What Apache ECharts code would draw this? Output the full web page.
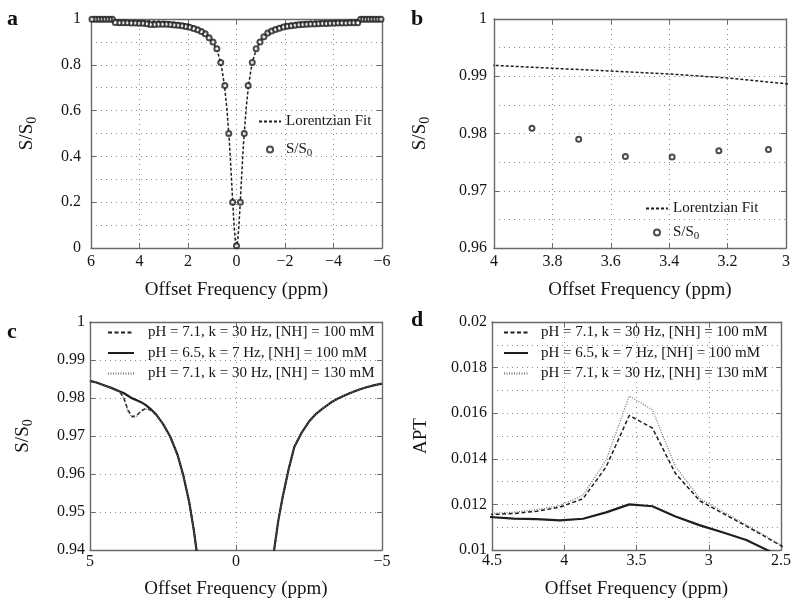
<!DOCTYPE html>
<html>
<head>
<meta charset="utf-8">
<title>Z-spectra and APT</title>
<script src="https://cdn.jsdelivr.net/npm/echarts@6/dist/echarts.min.js"></script>
<style>
  html, body { margin: 0; padding: 0; background: #fff; }
  #chart { width: 794px; height: 600px; }
</style>
</head>
<body>
<div id="chart"></div>
<script type="text/javascript">
// ---- panel a / b : Lorentzian fit (symmetric, only positive offsets listed)
var fitX = [0, 0.05, 0.1, 0.15, 0.2, 0.25, 0.3, 0.4, 0.5, 0.6, 0.7, 0.8, 1.0, 1.2, 1.5, 2.0, 2.5, 3.0, 3.2, 3.4, 3.6, 3.8, 4.0, 4.5, 5.0, 5.5, 6.0];
var fitY = [0.01, 0.034, 0.098, 0.188, 0.288, 0.385, 0.473, 0.613, 0.712, 0.780, 0.828, 0.862, 0.906, 0.932, 0.957, 0.977, 0.9845, 0.9887, 0.9897, 0.9904, 0.9909, 0.9914, 0.9919, 0.9927, 0.9934, 0.9940, 0.9945];

// measured S/S0 points (offsets in ppm, positive side and negative side)
var ptX   = [0, 0.16, 0.32, 0.48, 0.65, 0.81, 0.97, 1.13, 1.29, 1.45, 1.61, 1.77, 1.94, 2.10, 2.26, 2.42, 2.58, 2.74, 2.90, 3.06, 3.23, 3.39, 3.55, 3.71, 3.87, 4.03, 4.19, 4.35, 4.52, 4.68, 4.84, 5.00];
var ptPos = [0.01, 0.20, 0.50, 0.71, 0.81, 0.87, 0.90, 0.918, 0.936, 0.9455, 0.953, 0.9585, 0.9635, 0.967, 0.970, 0.9722, 0.9743, 0.9757, 0.9768, 0.9772, 0.9770, 0.9759, 0.9760, 0.9790, 0.9809, 0.9818, 0.9823, 0.9828, 0.9833, 0.9837, 0.9841, 0.9845];
var ptNeg = [0.01, 0.20, 0.50, 0.71, 0.81, 0.87, 0.90, 0.922, 0.939, 0.9475, 0.9545, 0.960, 0.965, 0.9685, 0.9708, 0.973, 0.9745, 0.9758, 0.9768, 0.9778, 0.9787, 0.9795, 0.9801, 0.9806, 0.9811, 0.9816, 0.982, 0.9824, 0.9828, 0.9832, 0.9835, 0.9838];
var farX  = [5.12, 5.24, 5.36, 5.48, 5.60, 5.72, 5.84, 5.96];
var farY  = [0.999, 0.999, 0.999, 0.999, 0.999, 0.999, 0.999, 0.999];

// ---- panel c : simulated Z-spectra
var cX = [5, 4.75, 4.5, 4.25, 4, 3.85, 3.7, 3.55, 3.4, 3.25, 3.1, 2.95, 2.75, 2.5, 2.25, 2, 1.8, 1.6, 1.45, 1.3, 1.1, 0,
          -1.1, -1.3, -1.45, -1.6, -1.8, -2, -2.25, -2.5, -2.75, -3, -3.25, -3.5, -3.75, -4, -4.25, -4.5, -4.75, -5];
var cDash  = [0.9845, 0.9840, 0.9833, 0.9826, 0.9817, 0.9802, 0.9768, 0.9751, 0.9754, 0.9766, 0.9772, 0.9769, 0.9757, 0.9732, 0.9698, 0.9650, 0.9595, 0.9525, 0.9455, 0.9370, 0.925, 0.30,
              0.928, 0.9397, 0.9478, 0.9540, 0.9612, 0.9672, 0.9709, 0.9738, 0.9759, 0.9774, 0.9788, 0.9799, 0.9808, 0.9816, 0.9823, 0.9829, 0.9834, 0.9838];
var cSolid = [0.9845, 0.9840, 0.9833, 0.9826, 0.9818, 0.9813, 0.9806, 0.9799, 0.9794, 0.9789, 0.9782, 0.9773, 0.9758, 0.9732, 0.9698, 0.9650, 0.9595, 0.9525, 0.9455, 0.9370, 0.925, 0.30,
              0.928, 0.9397, 0.9478, 0.9540, 0.9612, 0.9672, 0.9709, 0.9738, 0.9759, 0.9774, 0.9788, 0.9799, 0.9808, 0.9816, 0.9823, 0.9829, 0.9834, 0.9838];
var cDot   = [0.9845, 0.9840, 0.9833, 0.9826, 0.9817, 0.9800, 0.9764, 0.9748, 0.9752, 0.9765, 0.9771, 0.9769, 0.9757, 0.9732, 0.9698, 0.9650, 0.9595, 0.9525, 0.9455, 0.9370, 0.925, 0.30,
              0.928, 0.9397, 0.9478, 0.9540, 0.9612, 0.9672, 0.9709, 0.9738, 0.9759, 0.9774, 0.9788, 0.9799, 0.9808, 0.9816, 0.9823, 0.9829, 0.9834, 0.9838];

// ---- panel d : APT asymmetry
var dX     = [4.52, 4.35, 4.19, 4.03, 3.87, 3.71, 3.55, 3.39, 3.23, 3.06, 2.90, 2.74, 2.58, 2.42];
var dDash  = [0.01155, 0.01160, 0.01170, 0.01188, 0.01225, 0.01365, 0.01590, 0.01535, 0.01335, 0.01215, 0.01160, 0.01105, 0.01048, 0.0099];
var dSolid = [0.01145, 0.01138, 0.01135, 0.01130, 0.01137, 0.01165, 0.01200, 0.01192, 0.01147, 0.01108, 0.01077, 0.01044, 0.00995, 0.0095];
var dDot   = [0.01160, 0.01166, 0.01177, 0.01195, 0.01240, 0.01395, 0.01675, 0.01615, 0.01365, 0.01225, 0.01168, 0.01110, 0.01052, 0.0099];

var legNames = ['pH = 7.1, k = 30 Hz, [NH] = 100 mM', 'pH = 6.5, k = 7 Hz, [NH] = 100 mM', 'pH = 7.1, k = 30 Hz, [NH] = 130 mM'];

var FONT = '"Liberation Serif", "Times New Roman", serif';
var INK = '#151515';
var FRAME = '#6a6a6a';
var GRIDC = '#8c8c8c';

function zip(xs, ys) {
    var out = [];
    for (var i = 0; i < xs.length; i++) out.push([xs[i], ys[i]]);
    return out;
}

// fit curve, mirrored onto the negative side
var fitData = [];
for (var i = fitX.length - 1; i > 0; i--) fitData.push([-fitX[i], fitY[i]]);
for (var i = 0; i < fitX.length; i++) fitData.push([fitX[i], fitY[i]]);

var ptData = [];
for (var i = 0; i < farX.length; i++) { ptData.push([farX[i], farY[i]]); ptData.push([-farX[i], farY[i]]); }
for (var i = 0; i < ptX.length; i++) {
    ptData.push([ptX[i], ptPos[i]]);
    if (i > 0) ptData.push([-ptX[i], ptNeg[i]]);
}

var subRich = {
    m: { fontFamily: FONT, fontSize: 19, color: INK },
    s: { fontFamily: FONT, fontSize: 14, color: INK, padding: [9, 0, 0, 0] }
};

function xAxes(g, min, max, step, nameGap, margin) {
    var frame = { onZero: false, lineStyle: { color: FRAME, width: 1.4 } };
    return [{
        gridIndex: g, type: 'value', min: min, max: max, interval: step, inverse: true, position: 'bottom',
        axisLine: frame,
        axisTick: { inside: true, length: 5, lineStyle: { color: FRAME } },
        axisLabel: { color: INK, fontFamily: FONT, fontSize: 16, margin: margin,
            formatter: function (v) { return String(v).replace('-', '\u2212'); } },
        splitLine: { show: true, lineStyle: { color: GRIDC, type: [1, 4], width: 1 } },
        name: 'Offset Frequency (ppm)', nameLocation: 'middle', nameGap: nameGap,
        nameTextStyle: { color: INK, fontFamily: FONT, fontSize: 19 }
    }, {
        gridIndex: g, type: 'value', min: min, max: max, interval: step, inverse: true, position: 'top',
        axisLine: frame,
        axisTick: { inside: true, length: 5, lineStyle: { color: FRAME } },
        axisLabel: { show: false }, splitLine: { show: false }
    }];
}

function yAxes(g, min, max, step, minor, name, nameGap, margin) {
    var frame = { onZero: false, lineStyle: { color: FRAME, width: 1.4 } };
    return [{
        gridIndex: g, type: 'value', min: min, max: max, interval: step, position: 'left',
        axisLine: frame,
        axisTick: { inside: true, length: 5, lineStyle: { color: FRAME } },
        axisLabel: { color: INK, fontFamily: FONT, fontSize: 16, margin: margin },
        splitLine: { show: true, lineStyle: { color: GRIDC, type: [1, 4], width: 1 } },
        minorTick: { show: false, splitNumber: 2 },
        minorSplitLine: { show: minor, lineStyle: { color: GRIDC, type: [1, 4], width: 1 } },
        name: name, nameLocation: 'middle', nameGap: nameGap,
        nameTextStyle: { color: INK, fontFamily: FONT, fontSize: 19, rich: subRich }
    }, {
        gridIndex: g, type: 'value', min: min, max: max, interval: step, position: 'right',
        axisLine: frame,
        axisTick: { inside: true, length: 5, lineStyle: { color: FRAME } },
        axisLabel: { show: false }, splitLine: { show: false }
    }];
}

var fitStyle = { color: '#1e1e1e', width: 1.5, type: [3, 2] };
var ptStyle = { color: '#1e1e1e', borderColor: '#1e1e1e', borderWidth: 1.1 };
var lineStyles = [
    { color: '#1e1e1e', width: 1.5, type: [4, 2.5] },
    { color: '#1e1e1e', width: 2.2, type: 'solid' },
    { color: '#707070', width: 1.2, type: [1, 1.5] }
];
var noMark = { opacity: 0 };

function fitSeries(g) {
    return [{
        name: 'Lorentzian Fit', type: 'line', xAxisIndex: 2 * g, yAxisIndex: 2 * g,
        data: fitData, symbol: 'none', showSymbol: false, clip: true,
        lineStyle: fitStyle, itemStyle: { color: '#1e1e1e' }, z: 2
    }, {
        name: 'S/S0', type: 'scatter', xAxisIndex: 2 * g, yAxisIndex: 2 * g,
        data: ptData, symbol: 'emptyCircle', symbolSize: 5, clip: true, itemStyle: ptStyle, z: 3
    }];
}

function simSeries(g, xs, sets) {
    return sets.map(function (ys, k) {
        return {
            name: legNames[k], type: 'line', xAxisIndex: 2 * g, yAxisIndex: 2 * g,
            data: zip(xs, ys), symbol: 'none', showSymbol: false, clip: true,
            lineStyle: lineStyles[k], itemStyle: { color: lineStyles[k].color },
            z: 2 + (k === 1 ? 0 : 1)
        };
    });
}

function fitLegend(left, top, gap) {
    return {
        orient: 'vertical', left: left, top: top, itemWidth: 22, itemHeight: 6, itemGap: gap,
        selectedMode: false, padding: 0,
        data: [{ name: 'Lorentzian Fit', itemStyle: noMark },
               { name: 'S/S0', icon: 'emptyCircle', itemStyle: ptStyle }],
        textStyle: { color: INK, fontFamily: FONT, fontSize: 15,
            rich: { m: { fontFamily: FONT, fontSize: 15, color: INK },
                    s: { fontFamily: FONT, fontSize: 11, color: INK, padding: [7, 0, 0, 0] } } },
        formatter: function (n) { return n === 'S/S0' ? '{m|S/S}{s|0}' : n; }
    };
}

function simLegend(left, width, pad) {
    return {
        orient: 'vertical', left: left, top: 325, itemWidth: width, itemHeight: 14, itemGap: 5.5,
        selectedMode: false, padding: 0, itemStyle: noMark,
        data: legNames.map(function (n) { return { name: n, itemStyle: noMark }; }),
        textStyle: { color: INK, fontFamily: FONT, fontSize: 15, padding: [0, 0, 0, pad] }
    };
}

var chart = echarts.init(document.getElementById('chart'), null, { renderer: 'canvas' });

var option = {
    backgroundColor: '#ffffff',
    animation: false,
    grid: [
        { left: 91, top: 19, width: 291, height: 229 },
        { left: 494, top: 19, width: 292, height: 229 },
        { left: 90, top: 322, width: 292, height: 230 },
        { left: 492, top: 322, width: 290, height: 229 }
    ],
    xAxis: [].concat(
        xAxes(0, -6, 6, 2, 33, 6),
        xAxes(1, 3, 4, 0.2, 33, 6),
        xAxes(2, -5, 5, 5, 30, 4),
        xAxes(3, 2.5, 4.5, 0.5, 30, 3)
    ),
    yAxis: [].concat(
        yAxes(0, 0, 1, 0.2, true, '{m|S/S}{s|0}', 52, 10),
        yAxes(1, 0.96, 1, 0.01, true, '{m|S/S}{s|0}', 62, 7),
        yAxes(2, 0.94, 1, 0.01, false, '{m|S/S}{s|0}', 55, 5),
        yAxes(3, 0.01, 0.02, 0.002, true, 'APT', 61, 5)
    ),
    legend: [
        fitLegend(258, 114, 13),
        fitLegend(645, 201, 9),
        simLegend(107, 26, 9),
        simLegend(503, 24, 8)
    ],
    graphic: [
        { type: 'text', left: 7, top: 8, style: { text: 'a', font: 'bold 22px ' + FONT, fill: '#111' } },
        { type: 'text', left: 411, top: 8, style: { text: 'b', font: 'bold 22px ' + FONT, fill: '#111' } },
        { type: 'text', left: 7, top: 321, style: { text: 'c', font: 'bold 22px ' + FONT, fill: '#111' } },
        { type: 'text', left: 411, top: 309, style: { text: 'd', font: 'bold 22px ' + FONT, fill: '#111' } }
    ],
    series: [].concat(
        fitSeries(0),
        fitSeries(1),
        simSeries(2, cX, [cDash, cSolid, cDot]),
        simSeries(3, dX, [dDash, dSolid, dDot])
    )
};

chart.setOption(option);
</script>
</body>
</html>
